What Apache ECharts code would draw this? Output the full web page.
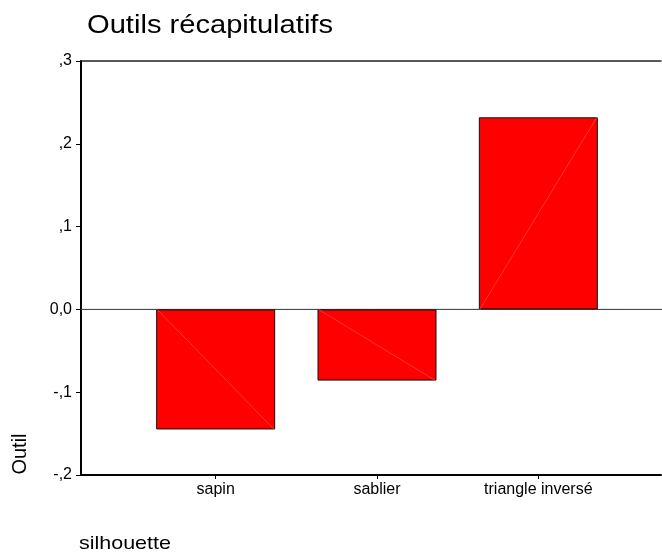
<!DOCTYPE html>
<html>
<head>
<meta charset="utf-8">
<script src="https://cdn.jsdelivr.net/npm/echarts@6/dist/echarts.min.js"></script>
<style>
html,body{margin:0;padding:0;background:#fff;}
#c{width:662px;height:552px;}
</style>
</head>
<body>
<div id="c"></div>
<script>
const categories = ['sapin', 'sablier', 'triangle inversé'];
const values = [-0.145, -0.086, 0.232];
const yTickValues = [-0.2, -0.1, 0, 0.1, 0.2, 0.3];
const yTickLabels = ['-,2', '-,1', '0,0', ',1', ',2', ',3'];
const titleText = 'Outils récapitulatifs';
const xAxisTitle = 'silhouette';
const yAxisTitle = 'Outil';

const FONT = "'Liberation Sans', Arial, sans-serif";
const BAR_W = 119;

function yLabel(v) {
  for (let i = 0; i < yTickValues.length; i++) {
    if (Math.abs(yTickValues[i] - v) < 1e-9) return yTickLabels[i];
  }
  return '';
}

const chart = echarts.init(document.getElementById('c'), null, {renderer: 'canvas'});
chart.setOption({
  animation: false,
  backgroundColor: '#ffffff',
  grid: [
    {left: 81, right: 1, top: 61, bottom: 77, containLabel: false},
    {left: 135, right: 43, top: 61, bottom: 77, containLabel: false}
  ],
  xAxis: [
    {gridIndex: 0, type: 'value', min: 0, max: 1, position: 'bottom',
     axisLine: {show: true, onZero: false, lineStyle: {color: '#000', width: 2}},
     axisTick: {show: false}, axisLabel: {show: false}, splitLine: {show: false}},
    {gridIndex: 0, type: 'value', min: 0, max: 1, position: 'top',
     axisLine: {show: true, onZero: false, lineStyle: {color: '#222', width: 1.5}},
     axisTick: {show: false}, axisLabel: {show: false}, splitLine: {show: false}},
    {gridIndex: 1, type: 'category', data: categories, position: 'bottom',
     axisLine: {show: false, onZero: false},
     axisTick: {show: true, alignWithLabel: true, length: 4, lineStyle: {color: '#000', width: 1}},
     axisLabel: {show: true, color: '#000', fontFamily: FONT, fontSize: 16, margin: 7},
     splitLine: {show: false}}
  ],
  yAxis: [
    {gridIndex: 0, type: 'value', min: -0.2, max: 0.3, interval: 0.1,
     axisLine: {show: true, lineStyle: {color: '#000', width: 2}},
     axisTick: {show: true, length: 5, lineStyle: {color: '#000', width: 1}},
     axisLabel: {show: true, color: '#000', fontFamily: FONT, fontSize: 16, margin: 9,
       formatter: yLabel},
     splitLine: {show: false}},
    {gridIndex: 1, type: 'value', min: -0.2, max: 0.3, interval: 0.1, show: false}
  ],
  series: [
    {
      type: 'custom', xAxisIndex: 0, yAxisIndex: 0, silent: true,
      data: [[0, 0]],
      renderItem: function (params, api) {
        const a = api.coord([0, 0]);
        const b = api.coord([1, 0]);
        return {type: 'line', shape: {x1: a[0], y1: a[1], x2: b[0] + 1, y2: b[1]},
                style: {stroke: '#333', lineWidth: 1}};
      },
      z: 1
    },
    {
      type: 'bar', xAxisIndex: 2, yAxisIndex: 1,
      data: values, barWidth: BAR_W,
      itemStyle: {color: '#ff0000', borderColor: '#111', borderWidth: 1},
      z: 3
    },
    {
      type: 'custom', xAxisIndex: 2, yAxisIndex: 1, silent: true,
      data: values.map((v, i) => [i, v]),
      renderItem: function (params, api) {
        const p0 = api.coord([api.value(0), 0]);
        const p1 = api.coord([api.value(0), api.value(1)]);
        return {type: 'line',
                shape: {x1: p0[0] - BAR_W / 2 + 1, y1: p0[1], x2: p0[0] + BAR_W / 2 - 1, y2: p1[1]},
                style: {stroke: '#ff5c5c', lineWidth: 0.6}};
      },
      z: 4
    }
  ],
  graphic: [
    {type: 'text', x: 87, y: 26, scaleX: 1.12, silent: true,
     style: {text: titleText, fill: '#000', font: '26px ' + FONT, textAlign: 'left', verticalAlign: 'middle'}},
    {type: 'text', x: 79, y: 543.5, scaleX: 1.13, silent: true,
     style: {text: xAxisTitle, fill: '#000', font: '19px ' + FONT, textAlign: 'left', verticalAlign: 'middle'}},
    {type: 'text', x: 20, y: 454, rotation: Math.PI / 2, silent: true,
     style: {text: yAxisTitle, fill: '#000', font: '20px ' + FONT, textAlign: 'center', verticalAlign: 'middle'}}
  ]
});
</script>
</body>
</html>
